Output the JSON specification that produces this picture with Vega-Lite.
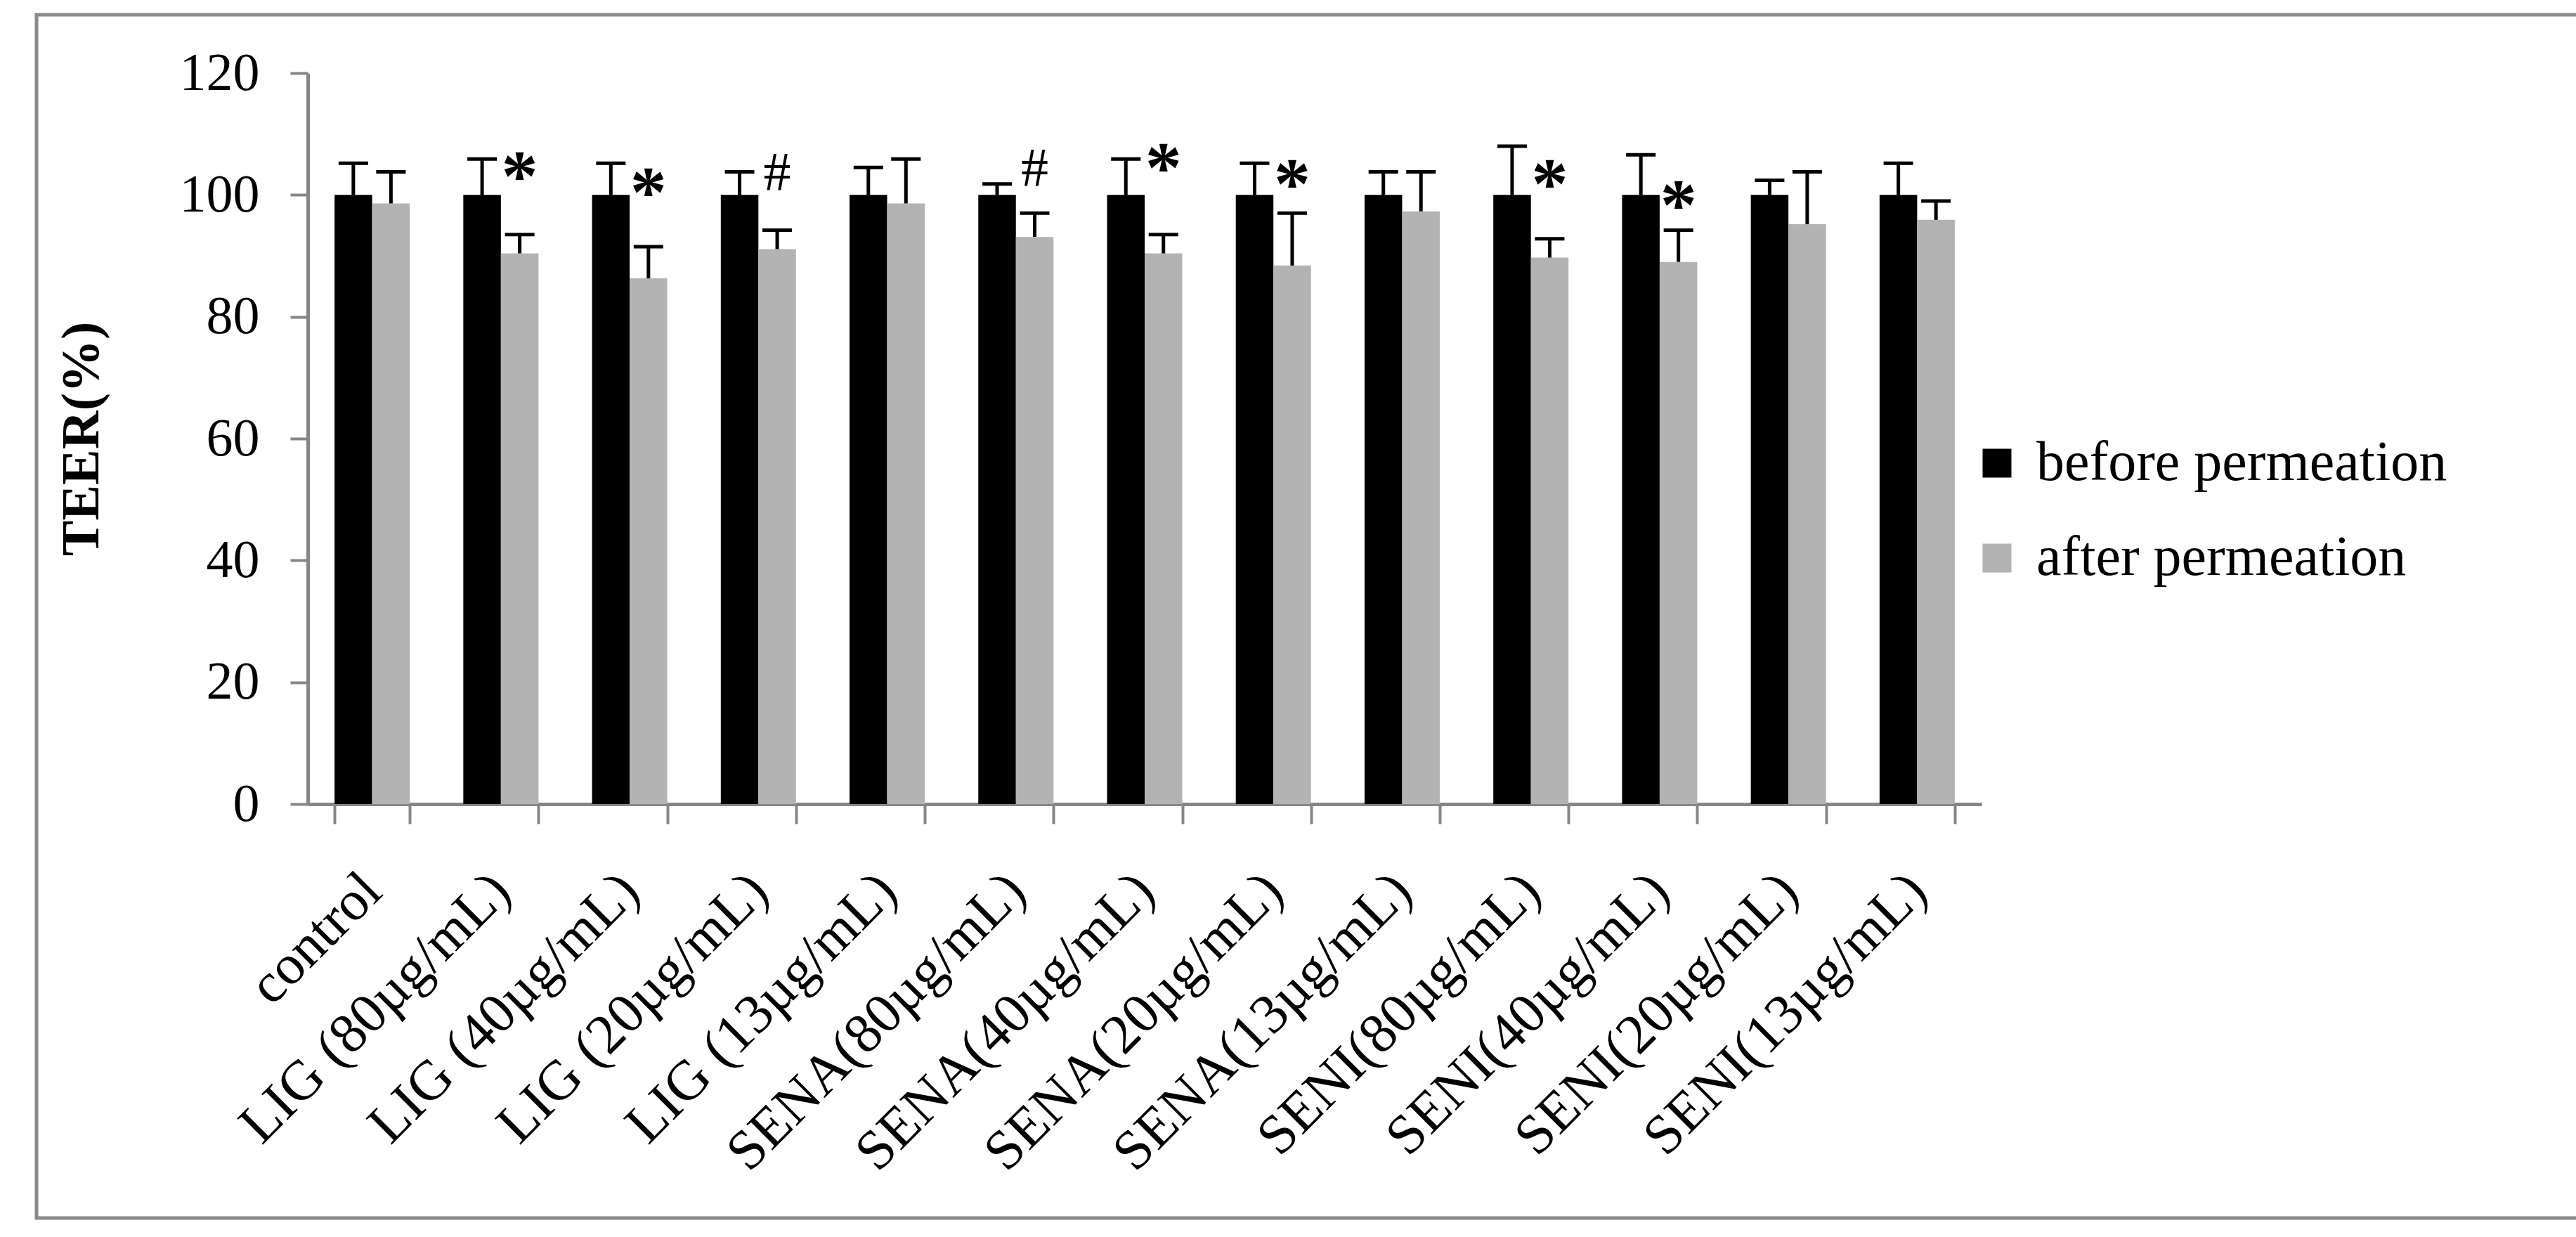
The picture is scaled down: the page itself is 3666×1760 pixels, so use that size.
{
  "$schema": "https://vega.github.io/schema/vega-lite/v6.json",
  "width": 3620,
  "height": 1712,
  "padding": {"left": 23, "top": 21, "right": 23, "bottom": 27},
  "background": "white",
  "config": {
    "font": "Liberation Serif",
    "view": {"stroke": "#8a8a8a", "strokeWidth": 5},
    "axis": {"grid": false}
  },
  "datasets": {
    "teer": [
      {"group": "control", "condition": "before permeation", "teer": 100, "err_top": 105.2},
      {"group": "control", "condition": "after permeation", "teer": 98.6, "err_top": 103.8},
      {"group": "LIG (80µg/mL)", "condition": "before permeation", "teer": 100, "err_top": 105.9},
      {"group": "LIG (80µg/mL)", "condition": "after permeation", "teer": 90.4, "err_top": 93.5},
      {"group": "LIG (40µg/mL)", "condition": "before permeation", "teer": 100, "err_top": 105.2},
      {"group": "LIG (40µg/mL)", "condition": "after permeation", "teer": 86.3, "err_top": 91.5},
      {"group": "LIG (20µg/mL)", "condition": "before permeation", "teer": 100, "err_top": 103.8},
      {"group": "LIG (20µg/mL)", "condition": "after permeation", "teer": 91.1, "err_top": 94.2},
      {"group": "LIG (13µg/mL)", "condition": "before permeation", "teer": 100, "err_top": 104.5},
      {"group": "LIG (13µg/mL)", "condition": "after permeation", "teer": 98.6, "err_top": 105.9},
      {"group": "SENA(80µg/mL)", "condition": "before permeation", "teer": 100, "err_top": 101.8},
      {"group": "SENA(80µg/mL)", "condition": "after permeation", "teer": 93.1, "err_top": 97.0},
      {"group": "SENA(40µg/mL)", "condition": "before permeation", "teer": 100, "err_top": 105.9},
      {"group": "SENA(40µg/mL)", "condition": "after permeation", "teer": 90.4, "err_top": 93.5},
      {"group": "SENA(20µg/mL)", "condition": "before permeation", "teer": 100, "err_top": 105.2},
      {"group": "SENA(20µg/mL)", "condition": "after permeation", "teer": 88.4, "err_top": 97.0},
      {"group": "SENA(13µg/mL)", "condition": "before permeation", "teer": 100, "err_top": 103.8},
      {"group": "SENA(13µg/mL)", "condition": "after permeation", "teer": 97.3, "err_top": 103.8},
      {"group": "SENI(80µg/mL)", "condition": "before permeation", "teer": 100, "err_top": 108.0},
      {"group": "SENI(80µg/mL)", "condition": "after permeation", "teer": 89.7, "err_top": 92.8},
      {"group": "SENI(40µg/mL)", "condition": "before permeation", "teer": 100, "err_top": 106.6},
      {"group": "SENI(40µg/mL)", "condition": "after permeation", "teer": 89.0, "err_top": 94.2},
      {"group": "SENI(20µg/mL)", "condition": "before permeation", "teer": 100, "err_top": 102.4},
      {"group": "SENI(20µg/mL)", "condition": "after permeation", "teer": 95.2, "err_top": 103.8},
      {"group": "SENI(13µg/mL)", "condition": "before permeation", "teer": 100, "err_top": 105.2},
      {"group": "SENI(13µg/mL)", "condition": "after permeation", "teer": 95.9, "err_top": 99.0}
    ],
    "sig": [
      {"group": "LIG (80µg/mL)", "condition": "after permeation", "sig": "*", "pos": 104.8},
      {"group": "LIG (40µg/mL)", "condition": "after permeation", "sig": "*", "pos": 102.1},
      {"group": "LIG (20µg/mL)", "condition": "after permeation", "sig": "#", "pos": 103.8},
      {"group": "SENA(80µg/mL)", "condition": "after permeation", "sig": "#", "pos": 104.5},
      {"group": "SENA(40µg/mL)", "condition": "after permeation", "sig": "*", "pos": 106.2},
      {"group": "SENA(20µg/mL)", "condition": "after permeation", "sig": "*", "pos": 103.5},
      {"group": "SENI(80µg/mL)", "condition": "after permeation", "sig": "*", "pos": 103.5},
      {"group": "SENI(40µg/mL)", "condition": "after permeation", "sig": "*", "pos": 100.0}
    ]
  },
  "encoding": {
    "x": {
      "field": "group",
      "type": "nominal",
      "title": null,
      "scale": {
        "domain": ["control", "LIG (80µg/mL)", "LIG (40µg/mL)", "LIG (20µg/mL)", "LIG (13µg/mL)",
                   "SENA(80µg/mL)", "SENA(40µg/mL)", "SENA(20µg/mL)", "SENA(13µg/mL)",
                   "SENI(80µg/mL)", "SENI(40µg/mL)", "SENI(20µg/mL)", "SENI(13µg/mL)"],
        "range": [386, 2768],
        "paddingInner": 0.416,
        "paddingOuter": 0.208
      },
      "axis": {
        "offset": -589,
        "tickBand": "extent",
        "domainColor": "#868686",
        "domainWidth": 5,
        "tickColor": "#868686",
        "tickWidth": 4,
        "tickSize": 28,
        "labelAngle": -45,
        "labelAlign": "right",
        "labelBaseline": "middle",
        "labelFontSize": 80,
        "labelColor": "black",
        "labelPadding": 83,
        "labelLimit": 2000,
        "labelOverlap": false
      }
    },
    "xOffset": {
      "field": "condition",
      "type": "nominal",
      "scale": {"domain": ["before permeation", "after permeation"], "paddingInner": 0, "paddingOuter": 0}
    }
  },
  "layer": [
    {
      "data": {"name": "teer"},
      "mark": {"type": "bar"},
      "encoding": {
        "y": {
          "field": "teer",
          "type": "quantitative",
          "title": "TEER(%)",
          "scale": {"domain": [0, 120], "range": [1123, 83], "nice": false, "zero": true},
          "axis": {
            "offset": -386,
            "values": [0, 20, 40, 60, 80, 100, 120],
            "domainColor": "#868686",
            "domainWidth": 5,
            "tickColor": "#868686",
            "tickWidth": 4,
            "tickSize": 25,
            "labelFontSize": 76,
            "labelColor": "black",
            "labelPadding": 44,
            "titleFontSize": 76,
            "titleFontWeight": "bold",
            "titleColor": "black",
            "titlePadding": 100
          }
        },
        "color": {
          "field": "condition",
          "type": "nominal",
          "scale": {"domain": ["before permeation", "after permeation"], "range": ["#000000", "#b3b3b3"]},
          "legend": {
            "orient": "none",
            "legendX": 2750,
            "legendY": 598,
            "title": null,
            "padding": 0,
            "symbolType": "square",
            "symbolSize": 1681,
            "symbolStrokeWidth": 0,
            "labelFontSize": 80,
            "labelColor": "black",
            "labelOffset": 16,
            "labelLimit": 2000,
            "rowPadding": 55
          }
        }
      }
    },
    {
      "data": {"name": "teer"},
      "mark": {"type": "rule", "color": "black", "strokeWidth": 5},
      "encoding": {
        "y": {"field": "teer", "type": "quantitative", "title": "TEER(%)"},
        "y2": {"field": "err_top"}
      }
    },
    {
      "data": {"name": "teer"},
      "mark": {"type": "tick", "color": "black", "thickness": 5, "size": 42, "opacity": 1},
      "encoding": {
        "y": {"field": "err_top", "type": "quantitative", "title": "TEER(%)"}
      }
    },
    {
      "data": {"name": "sig"},
      "transform": [{"filter": "datum.sig === '*'"}],
      "mark": {"type": "text", "fontSize": 104, "fontWeight": "bold", "baseline": "middle", "align": "center", "dy": 18, "color": "black"},
      "encoding": {
        "y": {"field": "pos", "type": "quantitative", "title": "TEER(%)"},
        "text": {"field": "sig"}
      }
    },
    {
      "data": {"name": "sig"},
      "transform": [{"filter": "datum.sig === '#'"}],
      "mark": {"type": "text", "fontSize": 78, "baseline": "middle", "align": "center", "dy": 3, "color": "black"},
      "encoding": {
        "y": {"field": "pos", "type": "quantitative", "title": "TEER(%)"},
        "text": {"field": "sig"}
      }
    }
  ]
}
